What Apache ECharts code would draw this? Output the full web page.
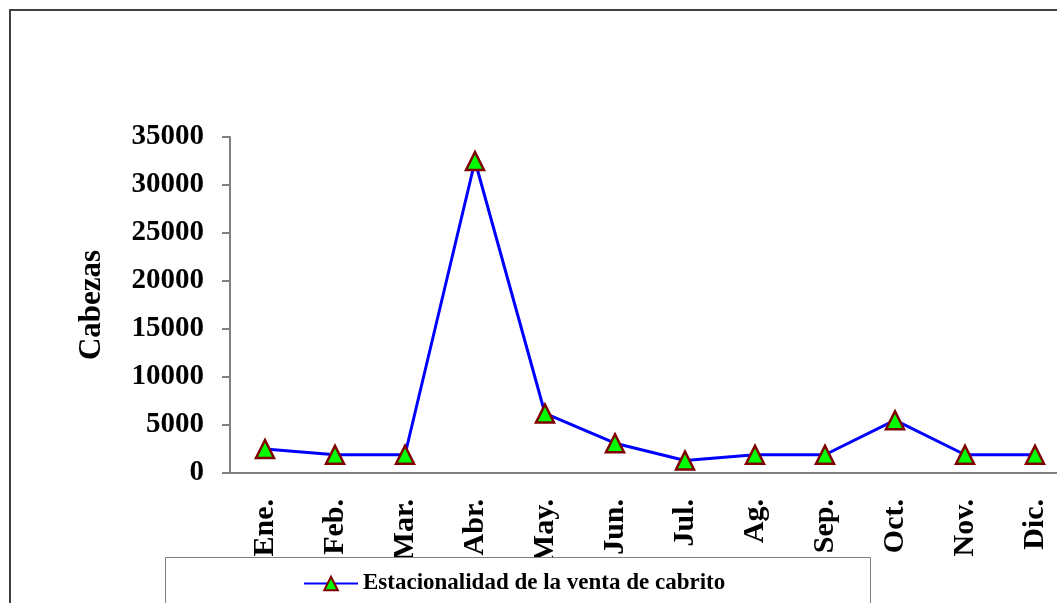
<!DOCTYPE html>
<html>
<head>
<meta charset="utf-8">
<script src="https://cdn.jsdelivr.net/npm/echarts@6/dist/echarts.min.js"></script>
<style>
html,body{margin:0;padding:0;background:#fff;}
#c{width:1057px;height:603px;}
</style>
</head>
<body>
<div id="c"></div>
<script>
const months = ['Ene.','Feb.','Mar.','Abr.','May.','Jun.','Jul.','Ag.','Sep.','Oct.','Nov.','Dic.'];
const ventas = [2500, 1900, 1900, 32500, 6200, 3100, 1300, 1900, 1900, 5500, 1900, 1900];
const seriesName = 'Estacionalidad de la venta de cabrito';
const yAxisName = 'Cabezas';

const FONT = '"Liberation Serif", "Times New Roman", serif';
const chart = echarts.init(document.getElementById('c'), null, {renderer: 'canvas'});
chart.setOption({
  backgroundColor: '#ffffff',
  animation: false,
  graphic: [
    {type: 'rect', shape: {x: 10, y: 10, width: 1060, height: 610}, style: {fill: 'none', stroke: '#404040', lineWidth: 2}, z: 0},
    {type: 'rect', shape: {x: 165.5, y: 557.5, width: 705, height: 60}, style: {fill: '#ffffff', stroke: '#808080', lineWidth: 1}, z: 10}
  ],
  grid: {left: 230, top: 137, width: 840, height: 336, containLabel: false, outerBoundsMode: 'none'},
  legend: {
    left: 298, top: 567, z: 20,
    itemWidth: 54, itemHeight: 17, itemGap: 6,
    textStyle: {fontFamily: FONT, fontWeight: 'bold', fontSize: 23, color: '#000'},
    data: [seriesName]
  },
  xAxis: {
    type: 'category',
    data: months,
    boundaryGap: true,
    axisLine: {lineStyle: {color: '#808080', width: 2}},
    axisTick: {length: 8, lineStyle: {color: '#808080', width: 2}},
    axisLabel: {rotate: 90, margin: 26, fontFamily: FONT, fontWeight: 'bold', fontSize: 30, color: '#000', interval: 0}
  },
  yAxis: {
    type: 'value',
    min: 0, max: 35000, interval: 5000,
    name: yAxisName,
    nameLocation: 'middle',
    nameRotate: 90,
    nameGap: 123,
    nameTextStyle: {fontFamily: FONT, fontWeight: 'bold', fontSize: 31, color: '#000'},
    splitLine: {show: false},
    axisLine: {show: true, lineStyle: {color: '#808080', width: 2}},
    axisTick: {show: true, length: 8, lineStyle: {color: '#808080', width: 2}},
    axisLabel: {margin: 26, fontFamily: FONT, fontWeight: 'bold', fontSize: 29, color: '#000', formatter: function (v) { return String(v); }}
  },
  series: [{
    name: seriesName,
    type: 'line',
    data: ventas,
    symbol: 'triangle',
    symbolSize: 18,
    lineStyle: {color: '#0000ff', width: 3},
    itemStyle: {color: '#00ff00', borderColor: '#800000', borderWidth: 2.5},
    z: 5
  }]
});
</script>
</body>
</html>
